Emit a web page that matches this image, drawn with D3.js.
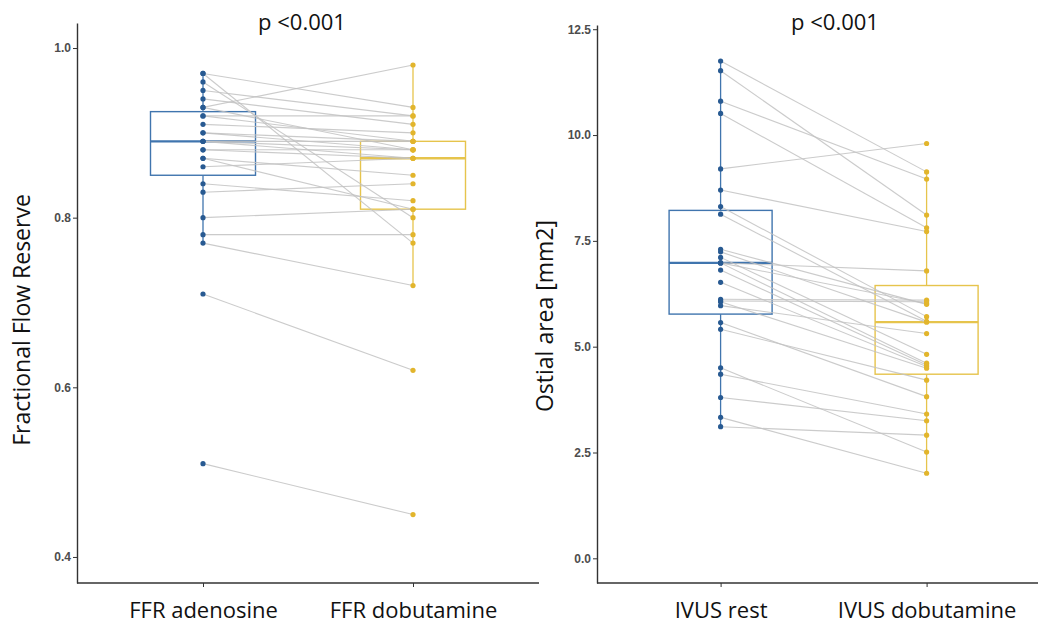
<!DOCTYPE html>
<html>
<head>
<meta charset="utf-8">
<script src="https://cdn.jsdelivr.net/npm/d3@7"></script>
<style>
  body { margin: 0; background: #fff; }
  svg { display: block; }
  .tick text { fill: #4d4d4d; font-family: "Liberation Sans", Arial, sans-serif; font-size: 12px; font-weight: bold; }
  .lab { font-family: "Open Sans", "Noto Sans", sans-serif; fill: #111; }
</style>
</head>
<body>
<div id="chart"></div>
<script>
// paired values, same index = same patient
var ffrCategories = ["FFR adenosine", "FFR dobutamine"];
var ffrAdenosine = [0.97, 0.97, 0.96, 0.95, 0.94, 0.93, 0.93, 0.92, 0.92, 0.91, 0.90, 0.90, 0.89, 0.89,
                    0.89, 0.88, 0.88, 0.87, 0.87, 0.86, 0.84, 0.83, 0.80, 0.78, 0.77, 0.71, 0.51];
var ffrDobutamine = [0.77, 0.93, 0.80, 0.92, 0.91, 0.98, 0.88, 0.92, 0.89, 0.90, 0.88, 0.89, 0.88, 0.87,
                     0.89, 0.88, 0.87, 0.85, 0.81, 0.87, 0.82, 0.84, 0.81, 0.78, 0.72, 0.62, 0.45];
var ffrTicks = [0.4, 0.6, 0.8, 1.0];

var ivusCategories = ["IVUS rest", "IVUS dobutamine"];
var ivusRest = [11.75, 11.52, 10.80, 10.51, 9.20, 8.70, 8.31, 8.13, 7.30, 7.24, 7.11, 6.98, 6.98, 6.98,
                6.81, 6.52, 6.12, 6.08, 6.06, 5.97, 5.57, 5.41, 4.50, 4.35, 3.80, 3.33, 3.11];
var ivusDobutamine = [9.13, 8.11, 8.96, 7.81, 9.80, 7.72, 5.71, 5.60, 6.00, 5.58, 4.82, 6.79, 6.02, 4.61,
                      4.57, 4.53, 6.10, 6.06, 4.49, 5.31, 3.82, 4.21, 2.51, 3.41, 3.25, 2.01, 2.91];
var ivusTicks = [0.0, 2.5, 5.0, 7.5, 10.0, 12.5];

var pTitle = "p <0.001";

var width = 1038;
var height = 624;
var blue = { box: "#4075ae", pt: "#285a92" };
var yellow = { box: "#e6c44c", pt: "#e2b52c" };

var svg = d3.select("#chart").append("svg")
    .attr("width", width)
    .attr("height", height);

function boxStats(v) {
  var s = v.slice().sort(d3.ascending);
  var q1 = d3.quantileSorted(s, 0.25), med = d3.quantileSorted(s, 0.5), q3 = d3.quantileSorted(s, 0.75);
  var iqr = q3 - q1;
  var lo = d3.min(s.filter(function(d) { return d >= q1 - 1.5 * iqr; }));
  var hi = d3.max(s.filter(function(d) { return d <= q3 + 1.5 * iqr; }));
  return { q1: q1, med: med, q3: q3, lo: lo, hi: hi };
}

function panel(opt) {
  var g = svg.append("g");

  var x = d3.scalePoint()
      .domain(opt.categories)
      .range([opt.x0 + opt.step * 0.6, opt.x0 + opt.step * 1.6]);

  var y = d3.scaleLinear()
      .domain(opt.domain)
      .range([opt.bottom, opt.top]);

  var series = [
    { cat: opt.categories[0], values: opt.a, col: blue },
    { cat: opt.categories[1], values: opt.b, col: yellow }
  ];

  var bw = opt.step * 0.5;

  // boxes
  series.forEach(function(s) {
    var st = boxStats(s.values);
    var cx = x(s.cat);
    g.append("line")
        .attr("x1", cx).attr("x2", cx)
        .attr("y1", y(st.hi)).attr("y2", y(st.q3))
        .attr("stroke", s.col.box).attr("stroke-width", 1.3);
    g.append("line")
        .attr("x1", cx).attr("x2", cx)
        .attr("y1", y(st.q1)).attr("y2", y(st.lo))
        .attr("stroke", s.col.box).attr("stroke-width", 1.3);
    g.append("rect")
        .attr("x", cx - bw / 2)
        .attr("y", y(st.q3))
        .attr("width", bw)
        .attr("height", y(st.q1) - y(st.q3))
        .attr("fill", "#fff")
        .attr("stroke", s.col.box)
        .attr("stroke-width", 1.4);
    g.append("line")
        .attr("x1", cx - bw / 2).attr("x2", cx + bw / 2)
        .attr("y1", y(st.med)).attr("y2", y(st.med))
        .attr("stroke", s.col.box).attr("stroke-width", 2.4);
  });

  // patient lines
  g.selectAll(".pair")
    .data(opt.a.map(function(d, i) { return [d, opt.b[i]]; }))
    .enter().append("line")
      .attr("class", "pair")
      .attr("x1", x(opt.categories[0]))
      .attr("x2", x(opt.categories[1]))
      .attr("y1", function(d) { return y(d[0]); })
      .attr("y2", function(d) { return y(d[1]); })
      .attr("stroke", "#c2c2c2")
      .attr("stroke-opacity", 0.85)
      .attr("stroke-width", 1.1);

  // points
  series.forEach(function(s) {
    g.selectAll(null)
      .data(s.values)
      .enter().append("circle")
        .attr("cx", x(s.cat))
        .attr("cy", function(d) { return y(d); })
        .attr("r", 2.6)
        .attr("fill", s.col.pt);
  });

  // axes
  var yAxis = g.append("g")
      .attr("transform", "translate(" + opt.x0 + ",0)")
      .call(d3.axisLeft(y).tickValues(opt.ticks).tickSize(4).tickSizeOuter(0).tickPadding(2).tickFormat(d3.format(".1f")));
  yAxis.select(".domain").attr("stroke", "#333").attr("stroke-width", 1.4);
  yAxis.selectAll(".tick line").attr("stroke", "#333");

  var xAxis = g.append("g")
      .attr("transform", "translate(0," + opt.bottom + ")")
      .call(d3.axisBottom(x).tickSize(4).tickPadding(15).tickSizeOuter(0));
  xAxis.select(".domain")
      .attr("d", "M" + opt.x0 + ",0H" + (opt.x0 + opt.step * 2.2))
      .attr("stroke", "#333").attr("stroke-width", 1.4);
  xAxis.selectAll(".tick line").attr("stroke", "#333");
  xAxis.selectAll(".tick text")
      .attr("class", "lab")
      .style("font-family", "'Open Sans', 'Noto Sans', sans-serif")
      .style("font-weight", "normal")
      .style("fill", "#111")
      .style("font-size", "22px");

  g.append("text")
      .attr("class", "lab")
      .attr("x", opt.titleX)
      .attr("y", 30)
      .attr("text-anchor", "middle")
      .style("font-size", "22px")
      .text(pTitle);

  g.append("text")
      .attr("class", "lab")
      .attr("transform", "translate(" + opt.labX + "," + opt.labY + ") rotate(-90)")
      .attr("text-anchor", "middle")
      .style("font-size", "23px")
      .text(opt.ylab);
}

panel({
  categories: ffrCategories, a: ffrAdenosine, b: ffrDobutamine, ticks: ffrTicks,
  domain: [0.3693, 1.0295], x0: 77, step: 210, top: 23, bottom: 583,
  titleX: 302, labX: 30, labY: 320, ylab: "Fractional Flow Reserve"
});

panel({
  categories: ivusCategories, a: ivusRest, b: ivusDobutamine, ticks: ivusTicks,
  domain: [-0.583, 12.6], x0: 597, step: 206, top: 25, bottom: 583,
  titleX: 835, labX: 553, labY: 316, ylab: "Ostial area [mm2]"
});
</script>
</body>
</html>
